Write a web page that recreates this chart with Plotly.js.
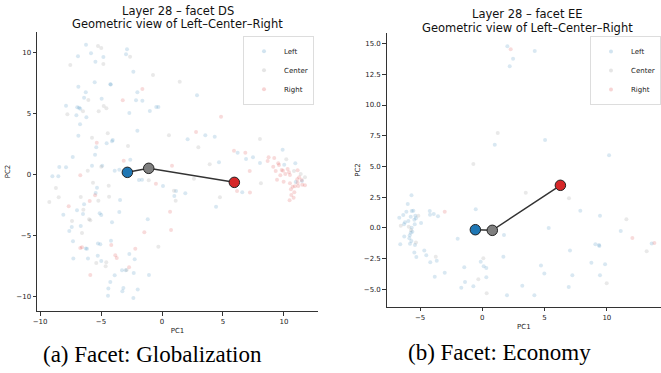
<!DOCTYPE html>
<html><head><meta charset="utf-8">
<script src="https://cdn.plot.ly/plotly-3.0.1.min.js"></script>
<style>html,body{margin:0;padding:0;background:#fff}#chart{width:661px;height:373px}</style>
</head><body><div id="chart"></div>
<script>
// ---------- Facet DS (Globalization) ----------
const dsLeftX = [-6.23,-5.82,-6.89,-4.81,-5.46,-2.87,-2.95,-2.35,-5.52,-4.24,-4.20,-6.86,-6.25,-6.39,-4.95,-2.02,-2.13,-1.61,-7.87,-6.95,-6.8,-6.7,-7.02,-6.2,-2.68,-1.0,-0.47,-0.3,-6.72,-2.02,-6.86,-4.04,-4.1,-4.54,-5.39,-5.49,-7.32,-2.6,-5.74,-4.9,-8.42,-7.87,
  2.87,2.1,3.55,4.32,9.89,6.2,7.46,6.89,4.67,8.03,10.02,10.93,
  -3.88,-3.5,-8.99,-8.5,-1.89,-1.64,0.08,1.01,1.15,1.91,4.43,6.58,10.96,11.48,
  -5.33,-5.44,-3.44,-6.39,-6.97,-6.48,-8.09,-5.11,-4.98,-3.5,-4.1,-6.66,-7.4,-7.6,-1.17,-7.3,-4.18,-5.25,-5.06,-6.25,-6.15,-2.68,-2.24,-5.27,-7.27,-6.07,-4.98,-3.28,-2.98,-3.88,-2.32,-1.07,-4.24,-4.4,-3.17,-3.25,-1.99,-4.43,-2.35];
const dsLeftY = [10.62,9.92,9.67,9.61,9.23,10.25,9.84,8.41,7.54,7.38,7.36,7.18,6.72,6.28,6.2,6.72,6.07,6.03,5.62,5.5,5.45,5.38,4.84,4.67,5.02,5.19,5.52,5.52,4.1,3.57,3.16,2.81,2.7,2.54,2.21,1.61,1.42,1.2,0.7,0.7,0.6,0.57,
  6.47,2.87,3.2,3.08,2.02,1.77,1.39,1.25,0.98,0.93,0.79,0.9,
  0.3,0.38,-0.16,-0.16,-0.47,-0.44,-0.96,-1.78,-1.37,-1.56,-2.66,-1.48,-0.63,-0.55,
  -1.1,-1.53,-2.11,-2.46,-2.95,-3.25,-3.31,-3.2,-3.34,-3.09,-3.93,-4.24,-4.32,-4.65,-3.69,-5.49,-5.44,-5.66,-5.74,-6.07,-6.1,-6.53,-6.97,-6.67,-6.89,-6.89,-7.11,-7.87,-7.87,-8.28,-8.09,-8.25,-8.83,-9.35,-9.32,-9.59,-9.43,-9.95,-10.14];
const dsCenterX = [-5.25,-4.98,-7.52,-4.81,-2.62,-0.74,-6.04,-4.78,-4.56,-6.48,-5.19,-7.76,-4.45,-5.74,0.57,-2.79,-4.98,
  1.45,8.03,2.98,10.19,3.91,10.82,11.37,11.72,8.11,2.62,4.75,1.12,-0.3,
  -6.09,-1.09,0.98,-8.7,-8.47,-9.24,-5.66,-4.37,-6.66,-5.22,-4.34,-6.45,-5.98,-5.88,-7.38,-6.56,-5.39,-4.57,-4.62,-2.9];
const dsCenterY = [10.52,10.35,8.96,9.04,9.64,8.14,6.09,5.6,5.41,5.16,5.16,4.92,3.36,3.0,3.2,2.32,0.62,
  7.59,2.89,2.21,1.23,0.82,0.27,0.02,-0.25,-0.74,-0.36,-1.89,-2.16,-5.93,
  0.3,-0.49,-1.34,-1.12,-1.89,-2.27,-0.69,-0.93,-1.86,-2.16,-1.84,-2.9,-3.69,-3.77,-3.83,-4.81,-7.27,-7.21,-7.54,-7.85];
const dsRightX = [-1.61,-3.22,-5.35,-3.14,0.82,4.84,2.79,5.9,6.83,8.74,9.2,8.66,7.19,6.15,7.21,
  9.59,10.3,9.92,10.41,9.32,10.11,10.49,9.7,11.25,11.09,11.45,9.43,9.97,10.49,11.12,11.5,11.72,10.71,10.9,11.17,10.57,10.85,10.6,10.79,10.46,11.12,9.53,9.12,9.81,
  -0.5,0.66,0.74,-1.45,-6.7,-5.49,-5.93,-7.65,-4.16,-6.7,-6.56,-2.19,-3.83,-3.71,-2.7,-5.88];
const dsRightY = [6.99,6.07,2.59,1.11,0.7,4.72,3.47,1.93,1.77,1.39,1.34,1.09,0.27,-1.37,-1.5,
  0.76,0.43,0.3,0.16,0.27,0.02,-0.06,-0.08,-0.25,-0.41,-0.47,-0.44,-0.6,-0.74,-0.69,-0.85,-0.9,-1.02,-0.98,-0.96,-1.23,-1.48,-1.7,-1.92,-2.13,0.33,0.9,0.62,0.35,
  -0.77,-3.07,-4.57,-4.75,-0.08,-1.72,-2.19,-2.62,-5.8,-6.04,-5.98,-6.1,-6.64,-6.86,-7.62,-8.25];
const dsCentroidX = [-2.84, -1.09, 5.93];
const dsCentroidY = [0.16, 0.49, -0.66];

// ---------- Facet EE (Economy) ----------
const eeLeftX = [2.01,4.21,2.47,2.2,1.0,5.04,10.18,
  -0.53,7.87,9.45,5.33,11.12,13.6,9.08,9.37,9.4,8.76,9.86,7.04,1.74,1.69,-0.13,0.11,0.32,4.71,4.98,0.32,7.23,9.45,6.94,3.21,-0.72,-1.69,-1.39,-1.45,1.98,4.18,-1.98,-3.02,
  -5.69,-5.99,-6.1,-5.67,-5.54,-6.67,-6.35,-5.38,-5.33,-5.75,-5.46,-5.94,-6.21,-6.29,-4.92,-5.43,-5.67,-4.22,-3.9,-4.2,-3.56,-5.62,-5.75,-5.83,-6.27,-5.86,-5.7,-5.81,-5.41,-6.59,-4.66,-5.46,-4.5,-5.3,-4.18,-3.66,-3.82];
const eeLeftY = [14.77,14.39,13.76,13.15,6.77,7.15,5.91,
  1.52,1.41,1.0,0.0,-0.24,-1.27,-1.33,-1.38,-1.46,-2.82,-2.95,-1.84,-0.57,-2.33,-2.74,-3.11,-3.25,-3.06,-3.71,-4.01,-3.85,-3.85,-4.8,-4.69,-4.74,-4.85,-4.39,-3.2,-5.47,-5.47,-0.87,-3.63,
  2.66,1.95,1.33,1.38,1.41,0.84,1.06,1.0,0.79,0.92,0.67,0.57,0.46,0.3,0.41,0.3,0.02,1.38,1.14,1.08,0.95,-0.3,-0.38,-0.6,-0.7,-0.84,-1.06,-1.28,-1.38,-1.33,-1.84,-2.0,-2.22,-2.36,-2.79,-2.66,-3.96];
const eeCenterX = [1.24,-0.72,3.49,6.96,11.57,13.2,0.08,-0.32,9.99,0.35,-5.14,-6.55,-5.91,-5.73,-5.33,-3.74];
const eeCenterY = [7.72,5.2,2.87,2.41,0.71,-1.9,-2.47,-4.17,-4.5,-5.31,1.0,0.19,0.11,-0.16,-1.17,-2.33];
const eeRightX = [2.28,12.05,13.82,-3.02];
const eeRightY = [14.53,-0.81,-1.22,1.33];
const eeCentroidX = [-0.56, 0.80, 6.27];
const eeCentroidY = [-0.14, -0.19, 3.47];

const groups = ["Left", "Center", "Right"];
const groupColors = ["#1f77b4", "#7f7f7f", "#d62728"];
const xTicksDS = [-10, -5, 0, 5, 10];
const yTicksDS = [-10, -5, 0, 5, 10];
const xTicksEE = [-5, 0, 5, 10];
const yTicksEE = [-5, -2.5, 0, 2.5, 5, 7.5, 10, 12.5, 15];

const W = 661, H = 373;
const px = v => v / W, py = v => 1 - v / H;

function cloud(x, y, i, xa, ya, leg) {
  return {type: 'scatter', mode: 'markers', x, y, name: groups[i], xaxis: xa, yaxis: ya, legend: leg,
    marker: {color: groupColors[i], size: 4, opacity: 0.17, line: {width: 0}}, hoverinfo: 'skip'};
}
function centroid(x, y, xa, ya) {
  return {type: 'scatter', mode: 'lines+markers', x, y, xaxis: xa, yaxis: ya, showlegend: false,
    line: {color: '#333', width: 1.5},
    marker: {color: groupColors, size: 10.5, line: {color: '#222', width: 1}}};
}
const traces = [
  cloud(dsLeftX, dsLeftY, 0, 'x', 'y', 'legend'),
  cloud(dsCenterX, dsCenterY, 1, 'x', 'y', 'legend'),
  cloud(dsRightX, dsRightY, 2, 'x', 'y', 'legend'),
  centroid(dsCentroidX, dsCentroidY, 'x', 'y'),
  cloud(eeLeftX, eeLeftY, 0, 'x2', 'y2', 'legend2'),
  cloud(eeCenterX, eeCenterY, 1, 'x2', 'y2', 'legend2'),
  cloud(eeRightX, eeRightY, 2, 'x2', 'y2', 'legend2'),
  centroid(eeCentroidX, eeCentroidY, 'x2', 'y2')
];

const axBase = {showline: true, linecolor: '#333', linewidth: 1, ticks: 'outside', ticklen: 3.5, tickwidth: 1,
  tickcolor: '#333', tickfont: {size: 7, color: '#222'}, showgrid: false, zeroline: false, mirror: false};
const tFont = {family: 'DejaVu Sans', size: 11.5, color: '#111'};
const capFont = {family: 'Liberation Serif', size: 23, color: '#000'};
const legBase = {bgcolor: 'rgba(255,255,255,0.85)', bordercolor: '#dddddd', borderwidth: 1,
  font: {size: 7, color: '#222'}, itemwidth: 30, tracegroupgap: 0, yanchor: 'top'};

const layout = {
  width: W, height: H, margin: {l: 0, r: 0, t: 0, b: 0, autoexpand: false},
  paper_bgcolor: '#fff', plot_bgcolor: '#fff',
  font: {family: 'DejaVu Sans', color: '#222'},
  xaxis: Object.assign({}, axBase, {domain: [px(37), px(318)], range: [-10.25, 12.79], anchor: 'y',
    tickvals: xTicksDS, title: {text: 'PC1', font: {size: 7}, standoff: 3}}),
  yaxis: Object.assign({}, axBase, {domain: [py(311), py(32)], range: [-11.2, 11.66], anchor: 'x',
    tickvals: yTicksDS, title: {text: 'PC2', font: {size: 7}, standoff: 4}}),
  xaxis2: Object.assign({}, axBase, {domain: [px(386.7), 1], range: [-7.68, 14.35], anchor: 'y2',
    tickvals: xTicksEE, title: {text: 'PC1', font: {size: 7}, standoff: 3}}),
  yaxis2: Object.assign({}, axBase, {domain: [py(306.7), py(33.3)], range: [-6.4, 15.83], anchor: 'x2',
    tickvals: yTicksEE, tickformat: '.1f', title: {text: 'PC2', font: {size: 7}, standoff: 2}}),
  legend: Object.assign({}, legBase, {x: px(314), xanchor: 'right', y: py(35.7)}),
  legend2: Object.assign({}, legBase, {x: 1, xanchor: 'right', y: py(36)}),
  annotations: [
    {text: 'Layer 28 – facet DS', x: px(177.5), y: py(11), xref: 'paper', yref: 'paper', showarrow: false, font: tFont, xanchor: 'center', yanchor: 'middle'},
    {text: 'Geometric view of Left–Center–Right', x: px(177.5), y: py(24), xref: 'paper', yref: 'paper', showarrow: false, font: tFont, xanchor: 'center', yanchor: 'middle'},
    {text: 'Layer 28 – facet EE', x: px(527), y: py(13.8), xref: 'paper', yref: 'paper', showarrow: false, font: tFont, xanchor: 'center', yanchor: 'middle'},
    {text: 'Geometric view of Left–Center–Right', x: px(527), y: py(27.6), xref: 'paper', yref: 'paper', showarrow: false, font: tFont, xanchor: 'center', yanchor: 'middle'},
    {text: '(a) Facet: Globalization', x: px(152), y: py(354), xref: 'paper', yref: 'paper', showarrow: false, font: capFont, xanchor: 'center', yanchor: 'middle'},
    {text: '(b) Facet: Economy', x: px(500), y: py(352), xref: 'paper', yref: 'paper', showarrow: false, font: capFont, xanchor: 'center', yanchor: 'middle'}
  ]
};
Plotly.newPlot('chart', traces, layout, {staticPlot: true, displayModeBar: false});
</script></body></html>
